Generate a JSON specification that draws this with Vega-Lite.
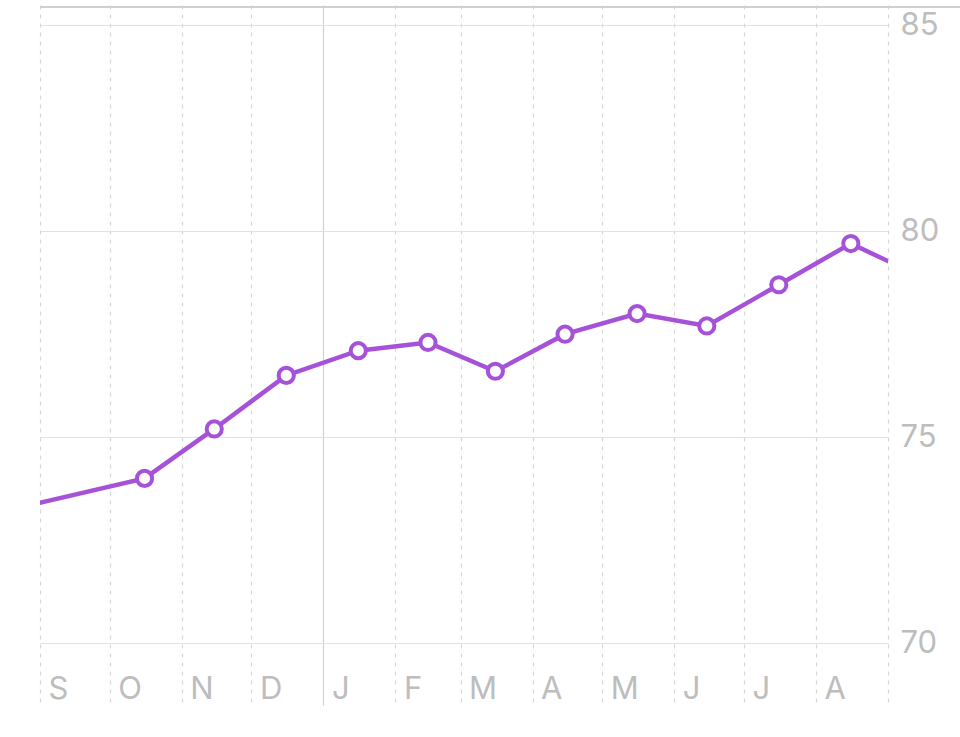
{
  "$schema": "https://vega.github.io/schema/vega-lite/v6.json",
  "description": "Monthly average, Sep to Aug",
  "autosize": {"type": "none"},
  "padding": {"left": 40, "top": 5, "right": 72, "bottom": 32},
  "width": 848,
  "height": 700,
  "background": "white",
  "config": {
    "view": {"stroke": null},
    "font": "Inter",
    "axis": {"labelFont": "Inter", "labelColor": "#bdbdbd", "labelFontSize": 31, "labelFontWeight": 400}
  },
  "data": {
    "values": [
      {"date": "2022-08-16", "value": 73.2},
      {"date": "2022-10-16", "value": 74.0},
      {"date": "2022-11-15", "value": 75.2},
      {"date": "2022-12-16", "value": 76.5},
      {"date": "2023-01-16", "value": 77.1},
      {"date": "2023-02-15", "value": 77.3},
      {"date": "2023-03-16", "value": 76.6},
      {"date": "2023-04-15", "value": 77.5},
      {"date": "2023-05-16", "value": 78.0},
      {"date": "2023-06-15", "value": 77.7},
      {"date": "2023-07-16", "value": 78.7},
      {"date": "2023-08-16", "value": 79.7},
      {"date": "2023-09-15", "value": 78.9}
    ]
  },
  "encoding": {
    "x": {
      "field": "date",
      "type": "temporal",
      "title": null,
      "scale": {"type": "utc", "domain": [{"year": 2022, "month": 9, "date": 1, "utc": true}, {"year": 2023, "month": 9, "date": 1, "utc": true}]},
      "axis": {
        "tickCount": {"interval": "month", "step": 1},
        "domain": false,
        "ticks": false,
        "tickSize": 0,
        "labelAlign": "left",
        "labelOffset": 8,
        "labelBaseline": "alphabetic",
        "labelPadding": -7,
        "labelFlush": false,
        "labelOverlap": false,
        "labelExpr": "utcyear(datum.value) === 2023 && utcmonth(datum.value) === 8 ? '' : substring(utcFormat(datum.value, '%b'), 0, 1)",
        "grid": true,
        "gridColor": {"condition": {"test": "utcmonth(datum.value) === 0", "value": "#d2d2d2"}, "value": "#d6d6d6"},
        "gridDash": {"condition": {"test": "utcmonth(datum.value) === 0", "value": []}, "value": [4, 5]},
        "gridWidth": 1.2
      }
    },
    "y": {
      "field": "value",
      "type": "quantitative",
      "title": null,
      "scale": {"domain": [68.5, 85.49], "zero": false, "nice": false},
      "axis": {
        "orient": "right",
        "values": [70, 75, 80, 85],
        "domain": false,
        "ticks": false,
        "labelPadding": 12,
        "labelAlign": "left",
        "labelBaseline": "middle",
        "grid": true,
        "gridColor": "#e2e2e2",
        "gridWidth": 1.2
      }
    }
  },
  "layer": [
    {
      "mark": {"type": "rule", "color": "#cfcfcf", "strokeWidth": 1.5, "clip": false},
      "encoding": {
        "x": {"datum": {"year": 2022, "month": 9, "date": 1, "utc": true}, "type": "temporal"},
        "x2": {"datum": {"year": 2023, "month": 10, "date": 5, "utc": true}},
        "y": {"datum": 85.45, "type": "quantitative"}
      }
    },
    {
      "mark": {"type": "line", "color": "#a652d8", "strokeWidth": 4.5, "clip": true}
    },
    {
      "mark": {"type": "point", "shape": "circle", "filled": true, "fill": "white", "stroke": "#a652d8", "strokeWidth": 4, "size": 230, "opacity": 1, "clip": true}
    }
  ]
}
